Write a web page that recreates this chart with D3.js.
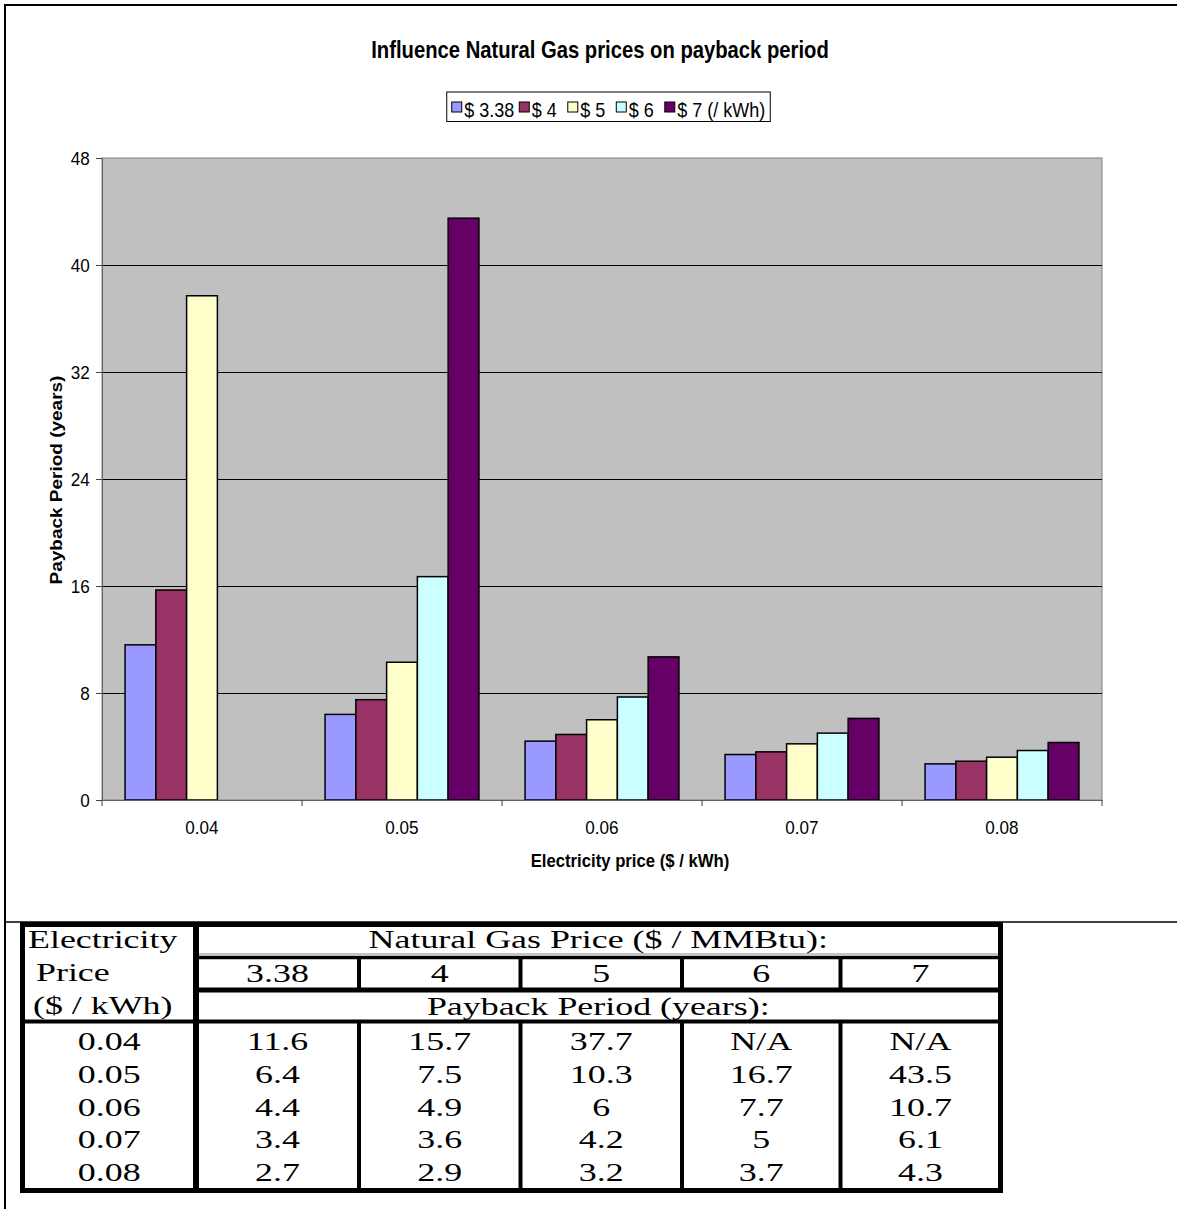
<!DOCTYPE html>
<html>
<head>
<meta charset="utf-8">
<script src="https://cdn.jsdelivr.net/npm/d3@7"></script>
<style>
  html, body { margin: 0; padding: 0; background: #fff; }
  svg { display: block; }
</style>
</head>
<body>
<div id="chart"></div>
<script>
// electricity price categories ($ / kWh)
const categories = ["0.04", "0.05", "0.06", "0.07", "0.08"];
// natural gas prices ($ / MMBtu)
const gasPrices = ["3.38", "4", "5", "6", "7"];
const legendLabels = ["$ 3.38", "$ 4", "$ 5", "$ 6", "$ 7 (/ kWh)"];
// payback period (years), null = N/A
const gas338 = [11.6, 6.4, 4.4, 3.4, 2.7];
const gas4 = [15.7, 7.5, 4.9, 3.6, 2.9];
const gas5 = [37.7, 10.3, 6, 4.2, 3.2];
const gas6 = [null, 16.7, 7.7, 5, 3.7];
const gas7 = [null, 43.5, 10.7, 6.1, 4.3];
const yTicks = [0, 8, 16, 24, 32, 40, 48];
const colours = ["#9999ff", "#993366", "#ffffcc", "#ccffff", "#660066"];

const series = [gas338, gas4, gas5, gas6, gas7];

const sizes = {width: 1177, height: 1209, margin: {top: 158, right: 75, bottom: 409, left: 102}};
const plotBottom = sizes.height - sizes.margin.bottom; // 800
const plotRight = sizes.width - sizes.margin.right;    // 1102

const sansFont = "'Liberation Sans', Arial, sans-serif";
const serifFont = "'Liberation Serif', 'Times New Roman', serif";
const sx = 0.88; // chart text is a bit condensed

const svg = d3.select("#chart").append("svg")
  .attr("width", sizes.width)
  .attr("height", sizes.height)
  .attr("viewBox", `0 0 ${sizes.width} ${sizes.height}`);

// outer frame lines
svg.append("path")
  .attr("fill", "none")
  .attr("stroke", "#000")
  .attr("stroke-width", 2)
  .attr("d", `M 5 1209 L 5 5 L 1177 5`);
svg.append("path")
  .attr("fill", "none")
  .attr("stroke", "#000")
  .attr("stroke-width", 1.5)
  .attr("d", `M 5 922 L 1177 922`);

// helper for squeezed / stretched text
const sText = (parent, str, x, y, opts) => {
  const g = parent.append("g").attr("transform", `translate(${x},${y}) scale(${opts.sx},1)${opts.rot ? " rotate(" + opts.rot + ")" : ""}`);
  return g.append("text")
    .text(str)
    .attr("text-anchor", opts.anchor || "middle")
    .style("font-family", opts.font)
    .style("font-size", opts.size + "px")
    .style("font-weight", opts.bold ? "bold" : "normal")
    .style("fill", "#000");
};

// title
sText(svg, "Influence Natural Gas prices on payback period", 600, 58, {sx: sx, font: sansFont, size: 23, bold: true});

// scales
const x = d3.scaleBand()
  .domain(categories)
  .range([sizes.margin.left, plotRight]);

const xInner = d3.scaleBand()
  .domain(d3.range(series.length))
  .range([0, x.bandwidth()])
  .paddingOuter(0.75);

const y = d3.scaleLinear()
  .domain([0, 48])
  .range([plotBottom, sizes.margin.top]);

// plot area
svg.append("rect")
  .attr("x", sizes.margin.left)
  .attr("y", sizes.margin.top)
  .attr("width", plotRight - sizes.margin.left)
  .attr("height", plotBottom - sizes.margin.top)
  .attr("fill", "#c0c0c0")
  .attr("stroke", "#808080")
  .attr("stroke-width", 1);

// gridlines
svg.append("g")
  .selectAll("line")
  .data(yTicks.filter(d => d > 0 && d < 48))
  .enter()
  .append("line")
    .attr("x1", sizes.margin.left)
    .attr("x2", plotRight)
    .attr("y1", d => Math.round(y(d)) + 0.5)
    .attr("y2", d => Math.round(y(d)) + 0.5)
    .attr("stroke", "#000")
    .attr("stroke-width", 1);

// bars
series.forEach((vals, i) => {
  svg.append("g")
    .selectAll("rect")
    .data(categories.map((c, j) => ({cat: c, value: vals[j]})).filter(d => d.value !== null))
    .enter()
    .append("rect")
      .attr("x", d => x(d.cat) + xInner(i))
      .attr("y", d => y(d.value))
      .attr("width", xInner.bandwidth())
      .attr("height", d => plotBottom - y(d.value))
      .attr("fill", colours[i])
      .attr("stroke", "#000")
      .attr("stroke-width", 1.5);
});

// y axis
const yAxis = svg.append("g")
  .attr("transform", `translate(${sizes.margin.left},0)`)
  .call(d3.axisLeft(y).tickValues(yTicks).tickSize(6).tickPadding(7).tickSizeOuter(0));
yAxis.select(".domain").attr("stroke", "#606060");
yAxis.selectAll(".tick line").attr("stroke", "#404040");
yAxis.selectAll("text")
  .attr("dy", "0.34em")
  .attr("transform", "scale(0.95,1)")
  .style("font-family", sansFont)
  .style("font-size", "18px")
  .style("fill", "#000");

// x axis (labels centred, ticks at boundaries)
const xAxis = svg.append("g")
  .attr("transform", `translate(0,${plotBottom})`)
  .call(d3.axisBottom(x).tickSize(0).tickPadding(34));
xAxis.select(".domain").attr("stroke", "#606060");
xAxis.selectAll("text")
  .attr("dy", "0")
  .attr("transform", "scale(0.95,1)")
  .style("font-family", sansFont)
  .style("font-size", "18px")
  .style("fill", "#000");
xAxis.selectAll("line.bound")
  .data(categories.map(c => x(c)).concat([plotRight]))
  .enter()
  .append("line")
    .attr("class", "bound")
    .attr("x1", d => d)
    .attr("x2", d => d)
    .attr("y1", 0)
    .attr("y2", 6)
    .attr("stroke", "#404040");

// axis titles
sText(svg, "Electricity price ($ / kWh)", 630, 867, {sx: sx, font: sansFont, size: 19, bold: true});
sText(svg, "Payback Period (years)", 62, 480, {sx: sx, font: sansFont, size: 19, bold: true, rot: -90});

// legend
const legend = svg.append("g");
const legendFont = 20;
let lx = 0;
legendLabels.forEach((lab, i) => {
  const item = legend.append("g");
  item.append("rect")
    .attr("x", 0).attr("y", -5)
    .attr("width", 10).attr("height", 10)
    .attr("fill", colours[i])
    .attr("stroke", "#000")
    .attr("stroke-width", 1);
  const t = sText(item, lab, 12.5, 9.5, {sx: 0.9, font: sansFont, size: legendFont, anchor: "start"});
  const w = 12.5 + t.node().getComputedTextLength() * 0.9;
  item.attr("transform", `translate(${lx},0)`);
  lx += w + (i === 0 ? 5 : 11);
});
const legendW = lx - 11 + 10;
const legendX = 608.5 - legendW / 2;
legend.attr("transform", `translate(${legendX + 5},107)`);
svg.insert("rect", "g")
  .attr("x", legendX)
  .attr("y", 92)
  .attr("width", legendW)
  .attr("height", 29.5)
  .attr("fill", "#fff")
  .attr("stroke", "#000")
  .attr("stroke-width", 1);
legend.raise();

// ---- data table below the chart ----
const table = svg.append("g");
const colEdges = [22.5, 196, 359, 520.5, 682, 840.5, 1000.5];
const rowTop = 924.5, row1 = 957.5, row2 = 990, row3 = 1021.5, rowBottom = 1190.5;
const tSx = 1.38, tSize = 26;

const tLine = (x1, y1, x2, y2, w, c) => table.append("line")
  .attr("x1", x1).attr("y1", y1).attr("x2", x2).attr("y2", y2)
  .attr("stroke", c || "#000").attr("stroke-width", w);

// thin grey inner ruling
tLine(colEdges[1], row1 - 3.5, colEdges[6], row1 - 3.5, 1, "#888");
// horizontal rules
tLine(colEdges[1], row1, colEdges[6], row1, 3.5);
tLine(colEdges[1], row2, colEdges[6], row2, 5);
tLine(colEdges[0], row3, colEdges[6], row3, 4);
// inner vertical rules (gas price columns)
colEdges.slice(2, 6).forEach(cx => {
  tLine(cx, row1, cx, row2, 4);
  tLine(cx, row3, cx, rowBottom, 4);
});
// first column rule and outer border
tLine(colEdges[1], rowTop, colEdges[1], rowBottom + 2.5, 6);
table.append("rect")
  .attr("x", colEdges[0]).attr("y", rowTop)
  .attr("width", colEdges[6] - colEdges[0])
  .attr("height", rowBottom - rowTop)
  .attr("fill", "none")
  .attr("stroke", "#000")
  .attr("stroke-width", 5);

const tOpts = (anchor) => ({sx: tSx, font: serifFont, size: tSize, anchor: anchor || "middle"});
const colCentre = (k) => (colEdges[k] + colEdges[k + 1]) / 2;

sText(table, "Electricity", 28, 948, tOpts("start"));
sText(table, "Price", 36, 981, tOpts("start"));
sText(table, "($ / kWh)", 33, 1014, tOpts("start"));
sText(table, "Natural Gas Price ($ / MMBtu):", (colEdges[1] + colEdges[6]) / 2, 948, tOpts());
sText(table, "Payback Period (years):", (colEdges[1] + colEdges[6]) / 2, 1015, tOpts());
gasPrices.forEach((g, k) => sText(table, g, colCentre(k + 1), 982, tOpts()));

const rowBase0 = 1050, rowPitch = 32.8;
categories.forEach((c, j) => {
  const by = rowBase0 + j * rowPitch;
  sText(table, c, colCentre(0), by, tOpts());
  series.forEach((vals, k) => {
    sText(table, vals[j] === null ? "N/A" : String(vals[j]), colCentre(k + 1), by, tOpts());
  });
});
</script>
</body>
</html>
